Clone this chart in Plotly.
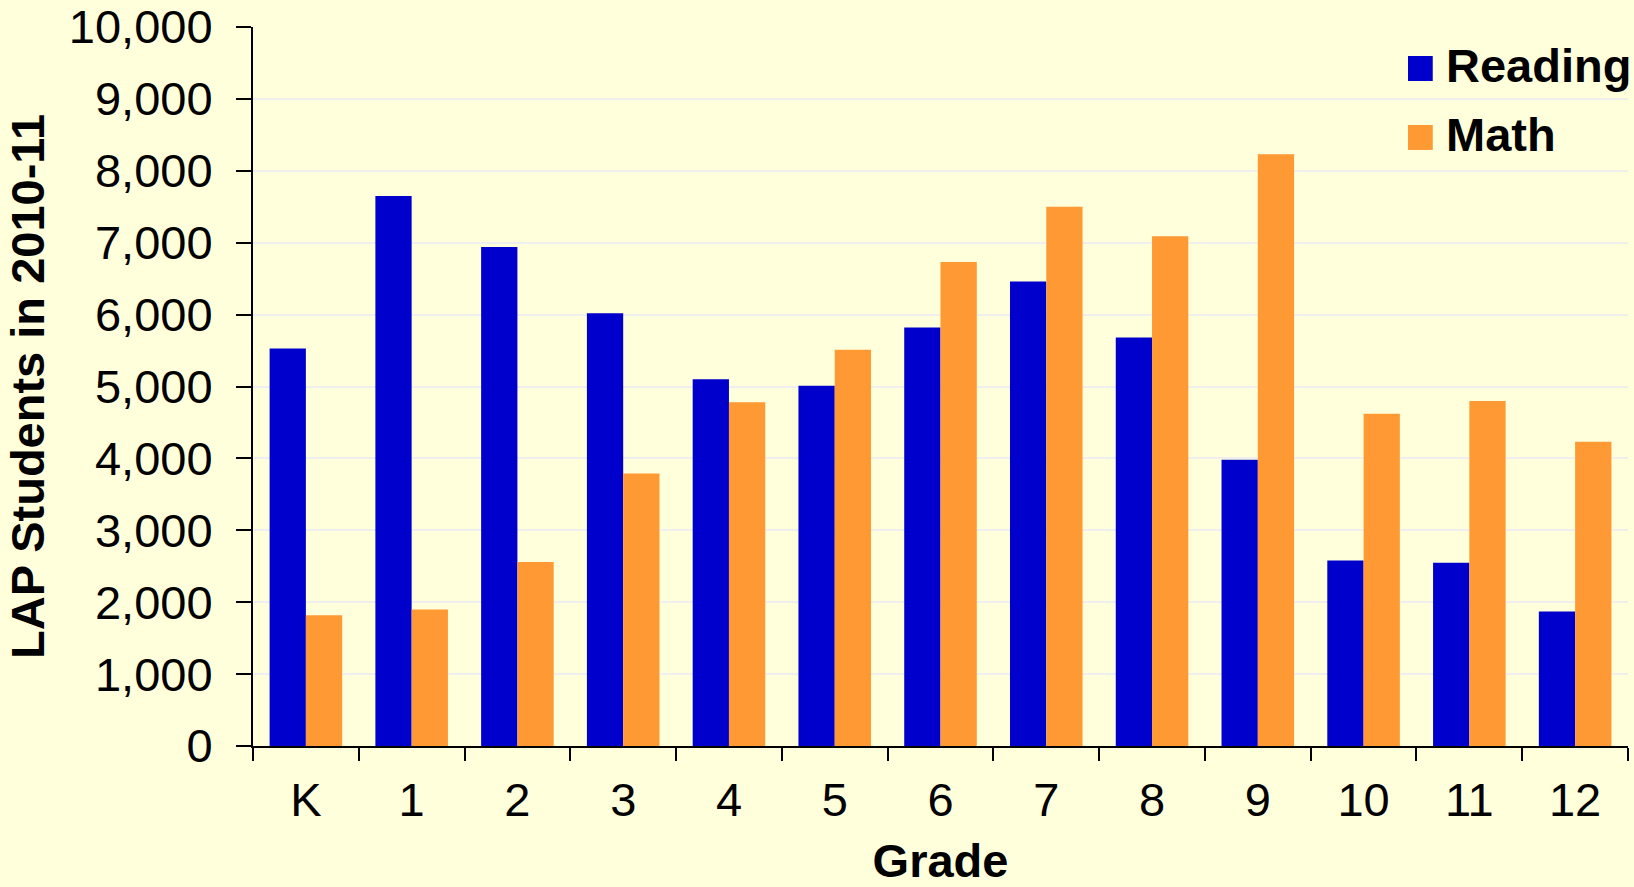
import plotly.graph_objects as go

grades = ["K", "1", "2", "3", "4", "5", "6", "7", "8", "9", "10", "11", "12"]
reading = [5530, 7650, 6940, 6020, 5100, 5010, 5820, 6460, 5680, 3980, 2580, 2550, 1870]
math = [1820, 1900, 2560, 3790, 4780, 5510, 6730, 7500, 7090, 8230, 4620, 4800, 4230]
series_names = ["Reading", "Math"]
series_colors = ["#0000CC", "#FF9933"]
y_ticks = [0, 1000, 2000, 3000, 4000, 5000, 6000, 7000, 8000, 9000, 10000]

FONT = "Liberation Sans, Arial, sans-serif"
BG = "#FFFFDC"

fig = go.Figure()
for name, vals, col in zip(series_names, [reading, math], series_colors):
    fig.add_trace(go.Bar(x=grades, y=vals, name=name, marker_color=col,
                         marker_line_width=0, showlegend=False))

# custom legend (large square swatches)
legend_rows = [(0.9597, 0.9249), (0.8637, 0.8290)]
for (y1, y0), name, col in zip(legend_rows, series_names, series_colors):
    fig.add_shape(type="rect", xref="paper", yref="paper", x0=0.840, x1=0.858,
                  y0=y0, y1=y1, fillcolor=col, line_width=0)
    fig.add_annotation(xref="paper", yref="paper", x=0.8665, y=(y0 + y1) / 2 + 0.0042,
                       text="<b>%s</b>" % name, showarrow=False, xanchor="left",
                       yanchor="middle", font=dict(family=FONT, size=47, color="black"))

fig.update_layout(
    width=1634, height=887,
    margin=dict(l=253, r=6, t=27, b=141),
    paper_bgcolor=BG, plot_bgcolor=BG,
    barmode="group", bargap=0.314, bargroupgap=0,
    font=dict(family=FONT, size=47, color="black"),
)
fig.update_xaxes(
    type="category", showline=True, linecolor="black", linewidth=2,
    ticks="outside", tickson="boundaries", ticklen=13, tickwidth=2, tickcolor="black",
    showgrid=False, tickfont=dict(size=47), ticklabelstandoff=12, automargin=False,
    title=dict(text="<b>Grade</b>", font=dict(size=47), standoff=20),
)
fig.update_yaxes(
    range=[0, 10000], tickvals=y_ticks, tickformat=",d",
    showline=True, linecolor="black", linewidth=2,
    ticks="outside", ticklen=15, tickwidth=2, tickcolor="black",
    showgrid=True, gridcolor="#EFEFEF", gridwidth=1.5, zeroline=False,
    tickfont=dict(size=47), ticklabelstandoff=14, automargin=False,
    title=dict(text="<b>LAP Students in 2010-11</b>", font=dict(size=47), standoff=9),
)

fig.write_html("out.html")
